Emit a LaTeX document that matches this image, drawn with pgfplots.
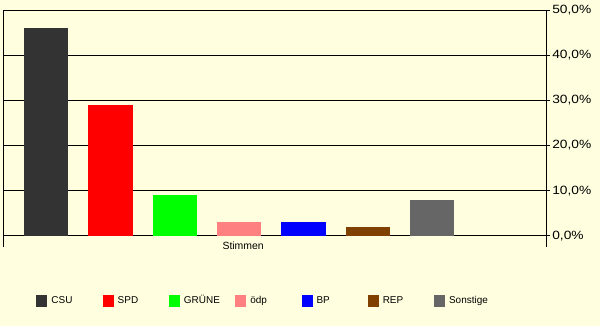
\documentclass[border=0pt]{standalone}
\usepackage{pgfplots}
\pgfplotsset{compat=1.18}
\usepackage{fontspec}
\setmainfont{Liberation Sans}
\definecolor{bg}{HTML}{FFFFE0}
\definecolor{csu}{HTML}{333333}
\definecolor{spd}{HTML}{FF0000}
\definecolor{gruene}{HTML}{00FF00}
\definecolor{oedp}{HTML}{FF8080}
\definecolor{bp}{HTML}{0000FF}
\definecolor{rep}{HTML}{804000}
\definecolor{sonst}{HTML}{666666}
\newcommand{\tl}[1]{\scalebox{1.15}[1]{#1}}
\pgfplotsset{mylegend/.style={legend image code/.code={\fill[##1] (0bp,-6bp) rectangle (11bp,6bp);}}}
\begin{document}
\begin{tikzpicture}
\fill[bg] (0bp,0bp) rectangle (600bp,326bp);
\begin{axis}[
  at={(3bp,90bp)}, anchor=south west,
  scale only axis, width=543bp, height=226bp,
  xmin=-0.665, xmax=7.766, ymin=0, ymax=50,
  axis line style={black, line width=0.8bp},
  tick align=outside,
  xtick={-0.664,7.765}, xticklabels={}, xtick pos=bottom,
  xtick style={black, line width=0.8bp, /pgfplots/major tick length=11bp},
  ytick={0,10,20,30,40,50},
  yticklabels={{\tl{0,0\%}},{\tl{10,0\%}},{\tl{20,0\%}},{\tl{30,0\%}},{\tl{40,0\%}},{\tl{50,0\%}}},
  ytick pos=right, yticklabel pos=right,
  ytick style={black, line width=0.8bp, /pgfplots/major tick length=4bp},
  yticklabel style={font=\fontsize{12}{14}\selectfont, anchor=west, xshift=-1.5bp},
  ymajorgrids, grid style={black, line width=0.8bp},
  xlabel={Stimmen},
  xlabel style={at={(axis description cs:0.442,0)}, anchor=center, yshift=-10bp, font=\fontsize{10.5}{12}\selectfont},
  legend columns=7,
  legend style={at={(axis description cs:0.0608,-0.2863)}, anchor=west, draw=none, fill=none, inner sep=0pt,
    font=\fontsize{10}{12}\selectfont,
    /tikz/every odd column/.style={column sep=4bp},
    nodes={inner sep=0pt, text width=51.3bp, align=left}},
]
\addplot[ybar, bar width=0.688, bar shift=0pt, fill=csu, draw=none, mylegend] coordinates {(0,46.0)};
\addlegendentry{CSU}
\addplot[ybar, bar width=0.688, bar shift=0pt, fill=spd, draw=none, mylegend] coordinates {(1,29.0)};
\addlegendentry{SPD}
\addplot[ybar, bar width=0.688, bar shift=0pt, fill=gruene, draw=none, mylegend] coordinates {(2,9.1)};
\addlegendentry{GRÜNE}
\addplot[ybar, bar width=0.688, bar shift=0pt, fill=oedp, draw=none, mylegend] coordinates {(3,3.1)};
\addlegendentry{ödp}
\addplot[ybar, bar width=0.688, bar shift=0pt, fill=bp, draw=none, mylegend] coordinates {(4,3.1)};
\addlegendentry{BP}
\addplot[ybar, bar width=0.688, bar shift=0pt, fill=rep, draw=none, mylegend] coordinates {(5,2.0)};
\addlegendentry{REP}
\addplot[ybar, bar width=0.688, bar shift=0pt, fill=sonst, draw=none, mylegend] coordinates {(6,8.0)};
\addlegendentry{Sonstige}
\end{axis}
\end{tikzpicture}
\end{document}
